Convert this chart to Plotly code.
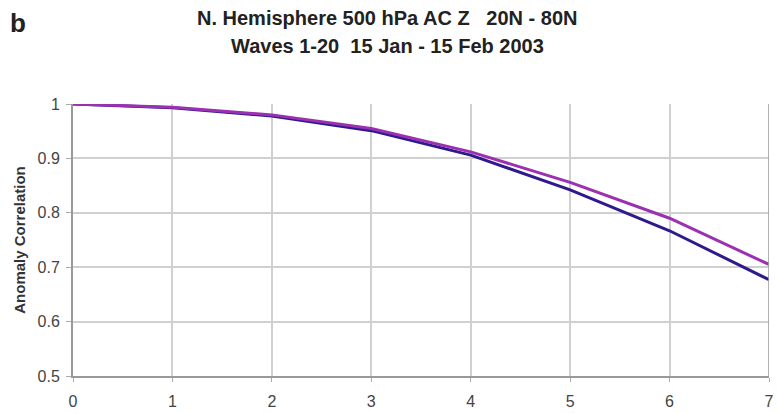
import plotly.graph_objects as go

days = [0, 1, 2, 3, 4, 5, 6, 7]
series_a = [1.0, 0.993, 0.978, 0.951, 0.906, 0.842, 0.767, 0.677]
series_b = [1.0, 0.994, 0.980, 0.955, 0.912, 0.856, 0.790, 0.705]
y_ticks = [0.5, 0.6, 0.7, 0.8, 0.9, 1]
y_labels = ["0.5", "0.6", "0.7", "0.8", "0.9", "1"]

fig = go.Figure()
fig.add_trace(go.Scatter(x=days, y=series_a, mode="lines",
                         line=dict(color="#2e1a8e", width=3), showlegend=False))
fig.add_trace(go.Scatter(x=days, y=series_b, mode="lines",
                         line=dict(color="#9b30b0", width=3), showlegend=False))

tick_font = dict(family="Liberation Sans, Arial, sans-serif", size=16, color="#444")

W, H = 778, 414
l, r, t, b = 73, 4, 104, 34
pw, ph = W - l - r, H - t - b

fig.update_layout(
    width=W, height=H,
    margin=dict(l=l, r=r, t=t, b=b),
    paper_bgcolor="white", plot_bgcolor="white",
    xaxis=dict(range=[0, 7], tickvals=days, ticks="outside", ticklen=4,
               tickcolor="#aaa", gridcolor="#d0d0d0", gridwidth=1.5,
               showline=True, linecolor="#999", linewidth=2, mirror=False,
               tickfont=tick_font, zeroline=False, ticklabelstandoff=6,
               ticklabeloverflow="allow"),
    yaxis=dict(range=[0.5, 1], tickvals=y_ticks, ticktext=y_labels, ticks="outside",
               ticklen=5, tickcolor="#aaa", gridcolor="#d0d0d0", gridwidth=1.5,
               showline=True, linecolor="#999", linewidth=2,
               tickfont=tick_font, zeroline=False, ticklabelstandoff=3,
               title=dict(text="<b>Anomaly Correlation</b>",
                          font=dict(family="Liberation Sans, Arial, sans-serif", size=15, color="#333"),
                          standoff=8)),
)

texts = ["<b>N. Hemisphere 500 hPa AC Z   20N - 80N</b>",
         "<b>Waves 1-20  15 Jan - 15 Feb 2003</b>",
         "<b>b</b>"]
pos = [(390, 17), (390, 45), (18, 22)]
sizes = [20, 20, 26]
anns = []
for txt, (px, py), size in zip(texts, pos, sizes):
    anns.append(dict(text=txt, x=(px - l) / pw, y=(H - b - py) / ph,
                     xref="paper", yref="paper", showarrow=False,
                     xanchor="center", yanchor="middle",
                     font=dict(family="Liberation Sans Narrow, Arial Narrow, Liberation Sans, sans-serif",
                               size=size, color="#222")))
fig.update_layout(annotations=anns)

# right border line at x=7
fig.add_shape(type="line", x0=7, x1=7, y0=0.5, y1=1, xref="x", yref="y",
              line=dict(color="#999", width=1.5))

fig.write_html("out.html")
